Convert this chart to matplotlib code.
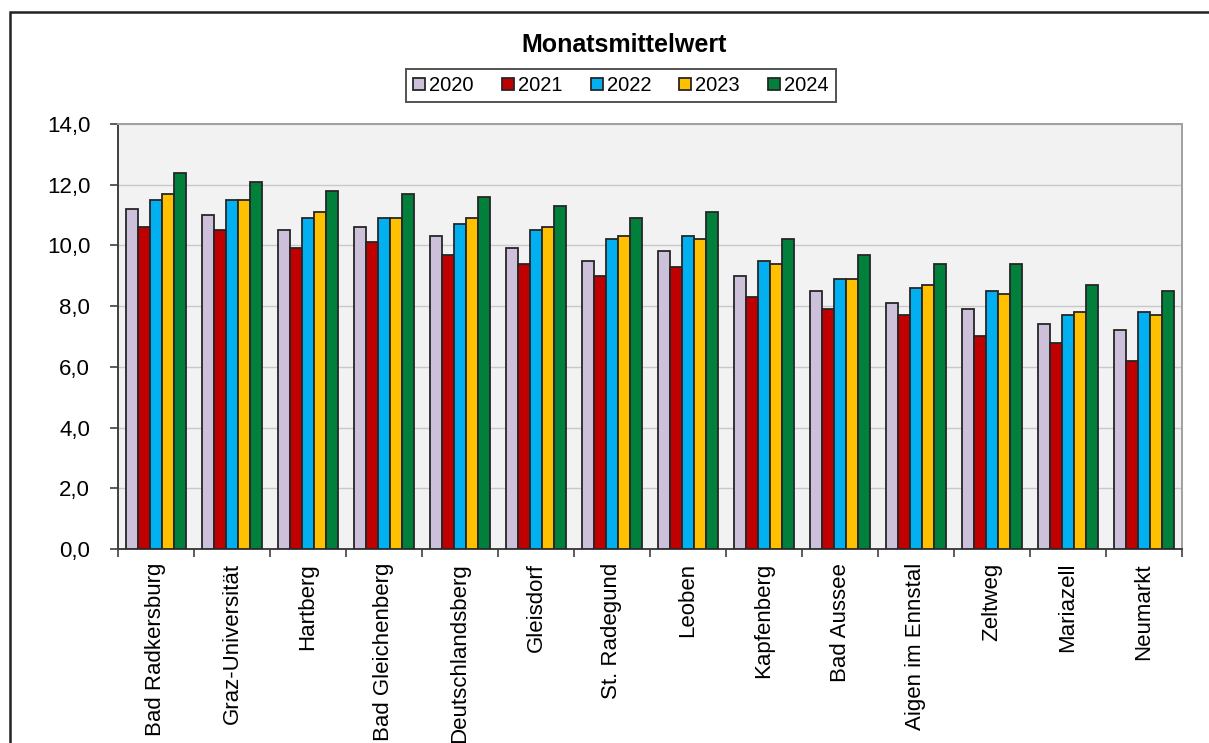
import numpy as np
import matplotlib
matplotlib.use("Agg")
import matplotlib.pyplot as plt
from matplotlib.patches import Rectangle
from matplotlib.ticker import FixedLocator, FuncFormatter

plt.rcParams['font.family'] = ['Liberation Sans', 'DejaVu Sans']

# stations (x categories)
stations = ["Bad Radkersburg", "Graz-Universität", "Hartberg", "Bad Gleichenberg",
            "Deutschlandsberg", "Gleisdorf", "St. Radegund", "Leoben", "Kapfenberg",
            "Bad Aussee", "Aigen im Ennstal", "Zeltweg", "Mariazell", "Neumarkt"]

years = ["2020", "2021", "2022", "2023", "2024"]

# monthly means per year
v2020 = [11.2, 11.0, 10.5, 10.6, 10.3, 9.9, 9.5, 9.8, 9.0, 8.5, 8.1, 7.9, 7.4, 7.2]
v2021 = [10.6, 10.5, 9.9, 10.1, 9.7, 9.4, 9.0, 9.3, 8.3, 7.9, 7.7, 7.0, 6.8, 6.2]
v2022 = [11.5, 11.5, 10.9, 10.9, 10.7, 10.5, 10.2, 10.3, 9.5, 8.9, 8.6, 8.5, 7.7, 7.8]
v2023 = [11.7, 11.5, 11.1, 10.9, 10.9, 10.6, 10.3, 10.2, 9.4, 8.9, 8.7, 8.4, 7.8, 7.7]
v2024 = [12.4, 12.1, 11.8, 11.7, 11.6, 11.3, 10.9, 11.1, 10.2, 9.7, 9.4, 9.4, 8.7, 8.5]

series = [v2020, v2021, v2022, v2023, v2024]
colors = ["#CCC0DA", "#C00000", "#00B0F0", "#FFC000", "#00803A"]

fig = plt.figure(figsize=(12.09, 7.43), dpi=100)
ax = fig.add_axes([118 / 1209, 1 - 549 / 743, (1182 - 118) / 1209, (549 - 124) / 743])
ax.set_facecolor("#F2F2F2")

x = np.arange(len(stations))
w = 0.158
for i, (vals, col) in enumerate(zip(series, colors)):
    ax.bar(x + (i - 2) * w, vals, width=w, color=col, edgecolor="#262626",
           linewidth=1.3, label=years[i], zorder=3)

ax.set_xlim(-0.5, len(stations) - 0.5)
ax.set_ylim(0, 14)
ax.set_yticks(np.arange(0, 14.1, 2))
ax.yaxis.set_major_formatter(FuncFormatter(lambda v, p: f"{v:.1f}".replace(".", ",")))
ax.yaxis.grid(True, color="#C8C8C8", linewidth=1.0, zorder=0)
ax.set_axisbelow(True)

# category labels between boundary ticks
ax.xaxis.set_major_locator(FixedLocator(np.arange(-0.5, len(stations), 1.0)))
ax.xaxis.set_major_formatter(FuncFormatter(lambda v, p: ""))
ax.xaxis.set_minor_locator(FixedLocator(x))
ax.set_xticklabels(stations, minor=True, rotation=90, va="top", ha="center")
ax.tick_params(axis="x", which="minor", length=0, pad=10, labelsize=16)
ax.tick_params(axis="x", which="major", length=6, width=1.2, color="#404040")
ax.tick_params(axis="y", length=6, width=1.2, color="#404040", pad=14, labelsize=16)

for s in ["left", "bottom"]:
    ax.spines[s].set_color("#404040")
    ax.spines[s].set_linewidth(1.4)
for s in ["top", "right"]:
    ax.spines[s].set_color("#A0A0A0")
    ax.spines[s].set_linewidth(1.4)

fig.text(624 / 1209, 1 - 45 / 743, "Monatsmittelwert", ha="center", va="center",
         fontsize=18, fontweight="bold")

leg = fig.legend(loc="center", bbox_to_anchor=(621 / 1209, 1 - 85.5 / 743), ncol=5,
                 fontsize=14.5, frameon=True, fancybox=False, handlelength=0.6,
                 handleheight=0.6, handletextpad=0.2, columnspacing=1.4,
                 borderpad=0.35, borderaxespad=0, edgecolor="#262626")
leg.get_frame().set_linewidth(1.4)

# outer chart border (cropped on right and bottom)
fig.add_artist(Rectangle((10 / 1209, -0.1), 1.2, 1 - 12 / 743 + 0.1,
                         transform=fig.transFigure, fill=False,
                         edgecolor="#222222", linewidth=1.8))

fig.savefig("out.png", dpi=100)
